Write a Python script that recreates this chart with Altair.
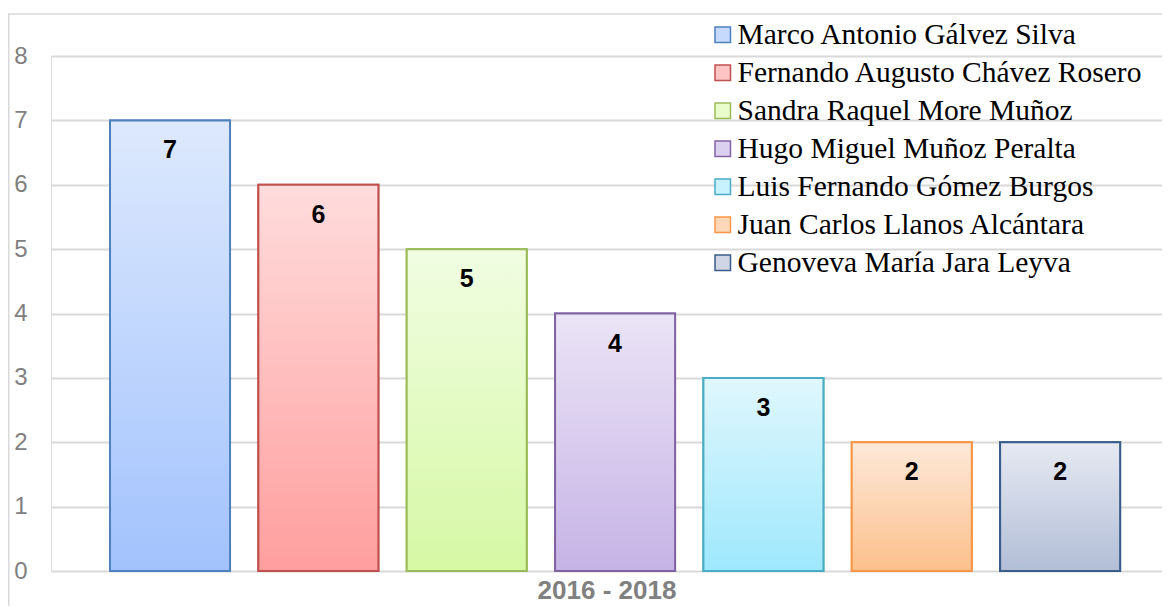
import altair as alt
import pandas as pd

names = [
    "Marco Antonio Gálvez Silva",
    "Fernando Augusto Chávez Rosero",
    "Sandra Raquel More Muñoz",
    "Hugo Miguel Muñoz Peralta",
    "Luis Fernando Gómez Burgos",
    "Juan Carlos Llanos Alcántara",
    "Genoveva María Jara Leyva",
]
values = [7, 6, 5, 4, 3, 2, 2]
period = "2016 - 2018"
y_ticks = [0, 1, 2, 3, 4, 5, 6, 7, 8]

top_colors = ["#dde9fd", "#ffdcdc", "#f0fde2", "#ebe4f6", "#e0f7fd", "#fde9d9", "#e6e9f2"]
bottom_colors = ["#a2c2fd", "#ff9e9e", "#d6f8a4", "#c6b3e6", "#9ee8fd", "#fcc08c", "#b2bed7"]
stroke_colors = ["#4f81bd", "#c0504d", "#9bbb59", "#8064a2", "#4bacc6", "#f79646", "#385d8a"]
legend_fill = ["#c6dafd", "#ffc4c4", "#e8fccc", "#dcd0f0", "#c8f2fd", "#fdd8b8", "#d0d6e6"]

df = pd.DataFrame({"name": names, "value": values, "period": period})

W, H = 1111, 515

x_enc = alt.X(
    "name:N",
    sort=names,
    scale=alt.Scale(domain=names, paddingInner=0.191, paddingOuter=0.34, align=0.585),
    axis=alt.Axis(
        title=period, labels=False, ticks=False, domain=False, grid=False,
        titleFont="Liberation Sans", titleFontSize=26, titleFontWeight="bold",
        titleColor="#808080", titlePadding=6,
    ),
)
y_enc = alt.Y(
    "value:Q",
    scale=alt.Scale(domain=[0, 8], nice=False),
    axis=alt.Axis(
        title=None, values=y_ticks, ticks=False, domain=False,
        labelFont="Liberation Sans", labelFontSize=24, labelColor="#7f7f7f",
        labelPadding=24, gridColor="#d9d9d9", gridWidth=2,
    ),
)

frame = alt.Chart(pd.DataFrame({"k": [0]})).mark_rect(
    filled=False, stroke="#d9d9d9", strokeWidth=1.5
).encode(
    x=alt.value(-42.25), x2=alt.value(W + 40), y=alt.value(-42), y2=alt.value(H + 100)
)

base = alt.Chart(df).mark_bar(strokeWidth=2).encode(
    x=x_enc,
    y=y_enc,
    fill=alt.Fill(
        "name:N",
        sort=names,
        scale=alt.Scale(domain=names, range=legend_fill),
        legend=alt.Legend(
            title=None, orient="none", legendX=657, legendY=-36,
            symbolType="square", symbolSize=240, symbolStrokeWidth=1.5,
            labelFont="Liberation Serif", labelFontSize=29.5, labelColor="black",
            labelLimit=600, rowPadding=7, symbolOffset=0, labelOffset=0,
        ),
    ),
    stroke=alt.Stroke(
        "name:N", sort=names, scale=alt.Scale(domain=names, range=stroke_colors),
    ),
)

layers = [frame, base]
for i, n in enumerate(names):
    grad = alt.LinearGradient(
        gradient="linear",
        stops=[alt.GradientStop(color=top_colors[i], offset=0),
               alt.GradientStop(color=bottom_colors[i], offset=1)],
        x1=0, x2=0, y1=0, y2=1,
    )
    layers.append(
        alt.Chart(df).transform_filter(alt.datum.name == n).mark_bar(
            fill=grad, stroke=stroke_colors[i], strokeWidth=2
        ).encode(x=x_enc, y=y_enc)
    )

labels = alt.Chart(df).mark_text(
    font="Liberation Sans", fontSize=25, fontWeight="bold", color="black",
    baseline="alphabetic", dy=38,
).encode(x=x_enc, y=y_enc, text="value:Q")
layers.append(labels)

chart = alt.layer(*layers).properties(
    width=W, height=H,
    autosize=alt.AutoSizeParams(type="none"),
    padding={"left": 43, "top": 48, "right": 0, "bottom": 35},
).configure_view(stroke=None).configure(background="white")

chart.save("out.html", embed_options={"renderer": "svg", "actions": False})
